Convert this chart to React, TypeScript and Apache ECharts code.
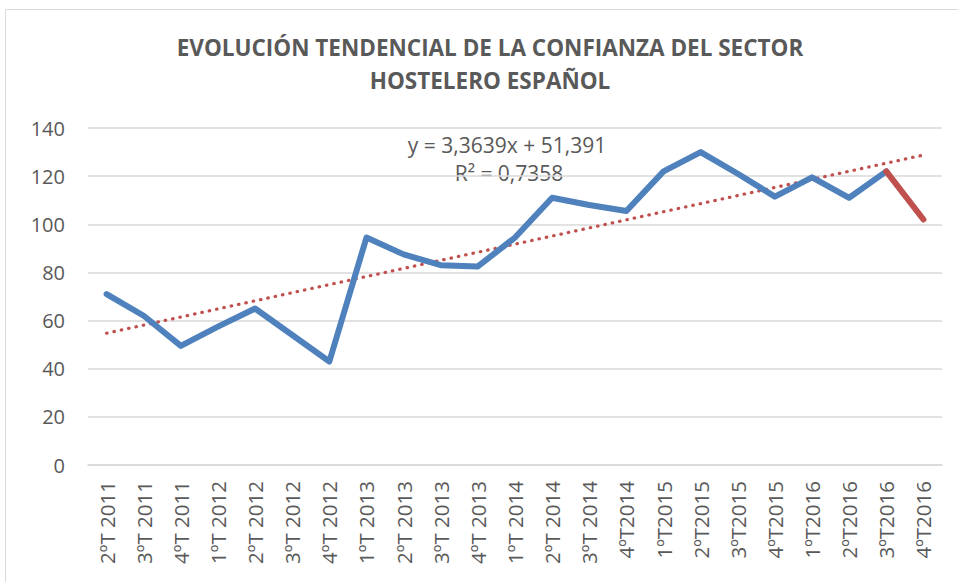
import React, { useEffect, useRef } from "react";
import * as echarts from "echarts";

const categories = [
  "2ºT 2011", "3ºT 2011", "4ºT 2011",
  "1ºT 2012", "2ºT 2012", "3ºT 2012", "4ºT 2012",
  "1ºT 2013", "2ºT 2013", "3ºT 2013", "4ºT 2013",
  "1ºT 2014", "2ºT 2014", "3ºT 2014", "4ºT2014",
  "1ºT2015", "2ºT2015", "3ºT2015", "4ºT2015",
  "1ºT2016", "2ºT2016", "3ºT2016", "4ºT2016",
];

const confidence = [
  71, 62, 49.5,
  57.5, 65, 54, 43,
  94.5, 87.5, 83, 82.5,
  94.5, 111, 108, 105.5,
  122, 130, 121, 111.5,
  119.5, 111, 122, 102,
];

const trendSlope = 3.3639;
const trendIntercept = 51.391;
const titleLines = ["EVOLUCIÓN TENDENCIAL DE LA CONFIANZA DEL SECTOR", "HOSTELERO ESPAÑOL"];
const equationText = "y = 3,3639x + 51,391";
const r2Text = "R² = 0,7358";
const yMin = 0;
const yMax = 140;
const yInterval = 20;

const FONT = "'Open Sans', 'Noto Sans', sans-serif";

export default function App() {
  const ref = useRef<HTMLDivElement>(null);
  useEffect(() => {
    document.body.style.margin = "0";
    if (!ref.current) return;
    const chart = echarts.init(ref.current, undefined, { renderer: "svg" });
    const n = confidence.length;
    const blue = confidence.map((v, i) => (i < n - 1 ? v : null));
    const red = confidence.map((v, i) => (i >= n - 2 ? v : null));
    const trendStart = trendSlope * 1 + trendIntercept;
    const trendEnd = trendSlope * n + trendIntercept;
    chart.setOption({
      animation: false,
      backgroundColor: "#ffffff",
      grid: { left: 88, right: 16, top: 128, bottom: 117, containLabel: false },
      xAxis: {
        type: "category",
        data: categories,
        boundaryGap: true,
        axisLine: { show: true, lineStyle: { color: "#D9D9D9", width: 1.5 } },
        axisTick: { show: false },
        axisLabel: {
          rotate: 90,
          interval: 0,
          margin: 16,
          fontSize: 20.5,
          color: "#595959",
          fontFamily: FONT,
        },
        splitLine: { show: false },
      },
      yAxis: {
        type: "value",
        min: yMin,
        max: yMax,
        interval: yInterval,
        axisLine: { show: false },
        axisTick: { show: false },
        axisLabel: { fontSize: 20, color: "#595959", margin: 23, fontFamily: FONT },
        splitLine: { show: true, lineStyle: { color: "#D9D9D9", width: 1.5 } },
      },
      series: [
        {
          type: "line",
          data: blue,
          symbol: "none",
          lineStyle: { color: "#4F81BD", width: 6, join: "round", cap: "round" },
          z: 3,
          markLine: {
            silent: true,
            symbol: "none",
            label: { show: false },
            lineStyle: { color: "#C0504D", width: 3.2, type: [0.5, 7], cap: "round" },
            data: [
              [
                { coord: [categories[0], trendStart] },
                { coord: [categories[n - 1], trendEnd] },
              ],
            ],
            z: 2,
          },
        },
        {
          type: "line",
          data: red,
          symbol: "none",
          lineStyle: { color: "#C0504D", width: 6, cap: "round" },
          z: 4,
        },
      ],
      graphic: [
        {
          type: "rect",
          shape: { x: 5.5, y: 9.5, width: 1200, height: 1200 },
          style: { fill: "none", stroke: "#D9D9D9", lineWidth: 1 },
          silent: true,
        },
        {
          type: "text",
          x: 490,
          y: 47,
          style: {
            text: titleLines[0],
            textAlign: "center",
            textVerticalAlign: "middle",
            font: `bold 22.5px ${FONT}`,
            fill: "#595959",
          },
        },
        {
          type: "text",
          x: 490,
          y: 80,
          style: {
            text: titleLines[1],
            textAlign: "center",
            textVerticalAlign: "middle",
            font: `bold 22.5px ${FONT}`,
            fill: "#595959",
          },
        },
        {
          type: "text",
          x: 507,
          y: 145,
          style: {
            text: equationText,
            textAlign: "center",
            textVerticalAlign: "middle",
            font: `21px ${FONT}`,
            fill: "#595959",
          },
        },
        {
          type: "text",
          x: 509,
          y: 173,
          style: {
            text: r2Text,
            textAlign: "center",
            textVerticalAlign: "middle",
            font: `21px ${FONT}`,
            fill: "#595959",
          },
        },
      ],
    });
    return () => chart.dispose();
  }, []);
  return <div ref={ref} style={{ width: 958, height: 582 }} />;
}
